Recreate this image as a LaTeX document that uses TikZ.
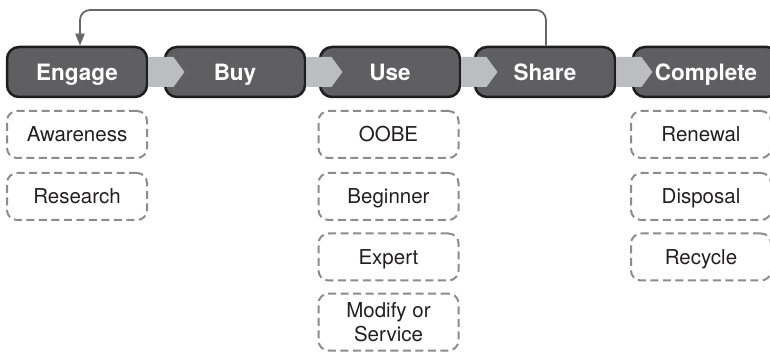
\documentclass[tikz,border=0pt]{standalone}
\usepackage{fontspec}
\setmainfont{TeX Gyre Heros}
\usetikzlibrary{arrows.meta}
\definecolor{stagefill}{HTML}{5F5F61}
\definecolor{stageedge}{HTML}{1E1E1E}
\definecolor{chevfill}{HTML}{BCBDBF}
\definecolor{dashedge}{HTML}{8C8C8E}
\definecolor{subtext}{HTML}{231F20}
\definecolor{loopline}{HTML}{686869}
\tikzset{
  stage/.style={draw=stageedge, line width=2.5pt, fill=stagefill, rounded corners=12pt,
    minimum width=140pt, minimum height=50pt, inner sep=0pt, text=white,
    text height=16.2pt, text depth=0pt,
    font=\fontsize{22.5}{27}\selectfont\bfseries},
  substep/.style={draw=dashedge, line width=2pt, dash pattern=on 8pt off 4.5pt,
    rounded corners=10pt, minimum width=140pt, minimum height=47pt, inner sep=0pt,
    text=subtext, text height=14.7pt, text depth=0pt,
    font=\fontsize{20.5}{24}\selectfont},
  loop/.style={draw=loopline, line width=1.8pt, rounded corners=10pt,
    -{Triangle[width=9pt,length=12pt]}},
}
% draws the grey chevron that links one stage box to the next
\newcommand{\chevron}[1]{%
  \fill[chevfill] ([shift={(0.2pt,15pt)}]#1.east) -- ++(25pt,0) -- ++(11pt,-15pt)
    -- ++(-11pt,-15pt) -- ++(-25pt,0) -- cycle;}
\begin{document}
\begin{tikzpicture}[x=1pt, y=-1pt]
  \useasboundingbox (0,0) rectangle (770,352);

  % stage boxes
  \node[stage] (engage)   at (77,72)  {Engage};
  \node[stage] (buy)      at (235,72) {Buy};
  \node[stage] (use)      at (390,72) {Use};
  \node[stage] (share)    at (545,72) {Share};
  \node[stage, minimum width=146pt] (complete) at (706,72) {Complete};

  % chevrons between consecutive stages
  \chevron{engage}
  \chevron{buy}
  \chevron{use}
  \chevron{share}

  % feedback loop from Share back to Engage
  \coordinate (looptop) at (0,10);
  \draw[loop] ([xshift=1pt]share.north) -- ([xshift=1pt]share.north |- looptop)
    -| ([xshift=3pt]engage.north);

  % sub-steps under Engage
  \node[substep] (aware)    at (77,134.5)  {Awareness};
  \node[substep] (research) at (77,196.5)  {Research};

  % sub-steps under Use
  \node[substep] (oobe)     at (388.5,134.5) {OOBE};
  \node[substep] (beginner) at (388.5,196.5) {Beginner};
  \node[substep] (expert)   at (388.5,257)   {Expert};
  \node[substep, minimum height=57pt, text height=38.7pt, text depth=0pt, align=center]
    (modify) at (388.5,322) {Modify or\\Service};

  % sub-steps under Complete
  \node[substep] (renewal)  at (701,134.5) {Renewal};
  \node[substep] (disposal) at (701,196.5) {Disposal};
  \node[substep] (recycle)  at (701,257)   {Recycle};
\end{tikzpicture}
\end{document}
